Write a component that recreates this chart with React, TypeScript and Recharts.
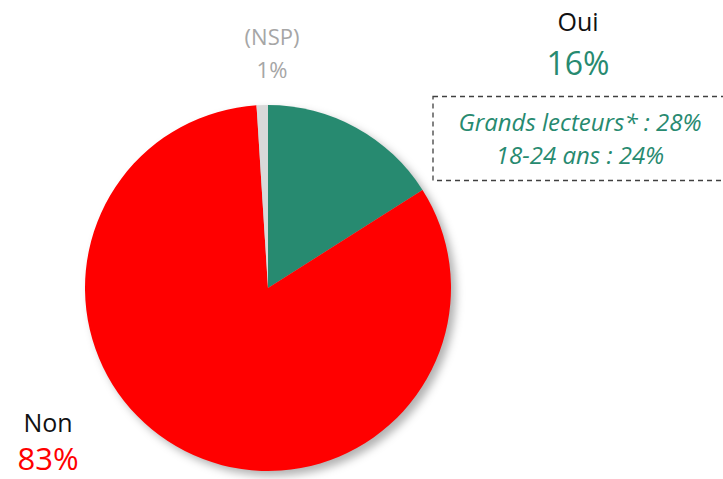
import { PieChart, Pie, Cell } from 'recharts';

const categories = ['Oui', 'Non', '(NSP)'];
const values = [16, 83, 1];
const colors = ['#278a70', '#ff0000', '#d9d9d9'];
const labels = ['16%', '83%', '1%'];
const subLines = ['Grands lecteurs* : 28%', '18-24 ans : 24%'];

const data = categories.map((name, i) => ({ name, value: values[i] }));

const font = '"Open Sans", Lato, sans-serif';

export default function App() {
  return (
    <div style={{ position: 'absolute', left: 0, top: 0, width: 723, height: 479, background: '#fff', fontFamily: font }}>
      <div style={{ position: 'absolute', left: 0, top: 0, filter: 'drop-shadow(5px 5px 4px rgba(0,0,0,0.3))' }}>
        <PieChart width={723} height={479} margin={{ top: 0, right: 0, bottom: 0, left: 0 }}>
          <Pie
            data={data}
            dataKey="value"
            nameKey="name"
            cx={268}
            cy={288}
            outerRadius={183}
            startAngle={90}
            endAngle={-270}
            stroke="none"
            isAnimationActive={false}
          >
            {data.map((d, i) => (
              <Cell key={d.name} fill={colors[i]} />
            ))}
          </Pie>
        </PieChart>
      </div>
      <svg width={723} height={479} style={{ position: 'absolute', left: 0, top: 0 }}>
        <g fontFamily={font} textAnchor="middle">
          <text x={578} y={31} fontSize={25} fill="#111">{categories[0]}</text>
          <text x={578} y={75} fontSize={32} fill={colors[0]}>{labels[0]}</text>
          <rect x={433} y={96.5} width={300} height={84} fill="none" stroke="#404040" strokeWidth={1.3} strokeDasharray="5 4" />
          <text x={580} y={131} fontSize={24} fontStyle="italic" fill={colors[0]}>{subLines[0]}</text>
          <text x={580} y={164} fontSize={24} fontStyle="italic" fill={colors[0]}>{subLines[1]}</text>
          <text x={272} y={45} fontSize={22} fill="#a6a6a6">{categories[2]}</text>
          <text x={272} y={78} fontSize={22} fill="#a6a6a6">{labels[2]}</text>
          <text x={48} y={432} fontSize={25} fill="#111">{categories[1]}</text>
          <text x={48} y={470} fontSize={31} fill={colors[1]}>{labels[1]}</text>
        </g>
      </svg>
    </div>
  );
}
